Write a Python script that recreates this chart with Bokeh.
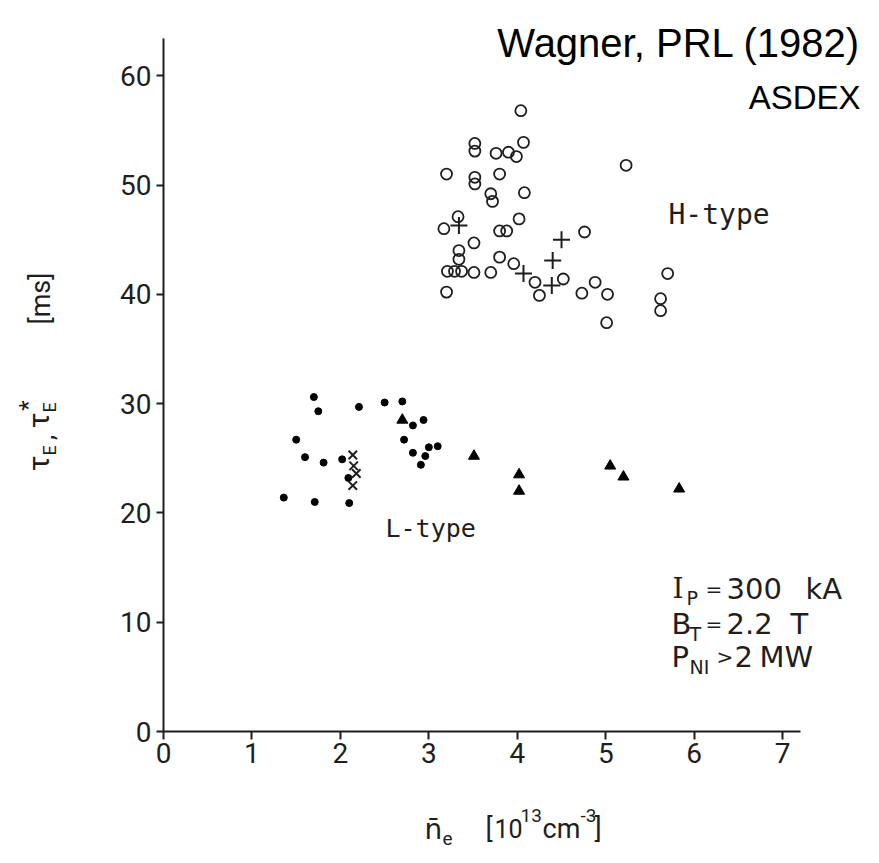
from math import pi
from bokeh.plotting import figure
from bokeh.models import Range1d, Label, FixedTicker
from bokeh.embed import file_html
from bokeh.resources import INLINE

# ---- data ----
h_open_x = [4.04, 3.52, 3.52, 3.76, 3.90, 3.99, 4.07, 3.20, 3.52, 3.52, 3.80, 5.23,
            3.70, 3.72, 4.08, 3.33, 3.17, 4.02, 3.80, 3.88, 3.51, 4.76, 3.34, 3.34,
            3.80, 3.96, 3.21, 3.29, 3.37, 3.51, 3.70, 4.20, 4.52, 4.88, 4.25, 4.73,
            5.02, 3.20, 5.01, 5.62, 5.62, 5.70]
h_open_y = [56.8, 53.8, 53.1, 52.9, 53.0, 52.6, 53.9, 51.0, 50.7, 50.1, 51.0, 51.8,
            49.2, 48.5, 49.3, 47.1, 46.0, 46.9, 45.8, 45.8, 44.7, 45.7, 44.0, 43.2,
            43.4, 42.8, 42.1, 42.1, 42.1, 42.0, 42.0, 41.1, 41.4, 41.1, 39.9, 40.1,
            40.0, 40.2, 37.4, 39.6, 38.5, 41.9]
h_plus_x = [3.34, 4.07, 4.40, 4.50, 4.39]
h_plus_y = [46.3, 41.9, 43.1, 45.0, 40.8]

l_dot_x = [1.70, 1.75, 2.21, 2.50, 2.70, 2.82, 2.94, 1.50, 2.72, 2.82, 3.00, 3.10,
           2.96, 2.91, 1.60, 1.81, 2.02, 2.09, 1.36, 1.71, 2.10]
l_dot_y = [30.6, 29.3, 29.7, 30.1, 30.2, 28.0, 28.5, 26.7, 26.7, 25.5, 26.0, 26.1,
           25.2, 24.4, 25.1, 24.6, 24.9, 23.2, 21.4, 21.0, 20.9]
l_tri_x = [2.70, 3.51, 4.02, 4.02, 5.05, 5.20, 5.83]
l_tri_y = [28.5, 25.2, 23.5, 22.0, 24.3, 23.3, 22.2]
l_x_x = [2.14, 2.15, 2.18, 2.14]
l_x_y = [25.3, 24.3, 23.6, 22.5]

x_ticks = [0, 1, 2, 3, 4, 5, 6, 7]
y_ticks = [0, 10, 20, 30, 40, 50, 60]
x_axis_end = 7.2
y_axis_end = 63.4

# ---- layout: the frame covers the whole canvas; axes sit at the data origin ----
W, H = 879, 863
X0, Y0 = 163.0, 731.0      # pixel position of the data origin
XS, YS = 88.45, 10.93      # pixels per data unit


def X(px):  # pixel -> data x
    return (px - X0) / XS


def Y(py):  # pixel -> data y
    return (Y0 - py) / YS


p = figure(width=W, height=H, output_backend="svg", toolbar_location=None,
           x_range=Range1d(X(0), X(W)), y_range=Range1d(Y(H), Y(0)),
           min_border=0, min_border_left=0, min_border_right=0,
           min_border_top=0, min_border_bottom=0)
p.outline_line_color = None
p.xgrid.visible = False
p.ygrid.visible = False
p.background_fill_color = "white"
p.border_fill_color = "white"

TF = "Roboto"
INK = "#1e1e1e"
for ax in (p.xaxis[0], p.yaxis[0]):
    ax.fixed_location = 0
    ax.axis_line_width = 2
    ax.axis_line_color = INK
    ax.major_tick_line_width = 2
    ax.major_tick_line_color = INK
    ax.minor_tick_line_color = None
    ax.major_tick_in = 0
    ax.major_label_text_font = TF
    ax.major_label_text_font_size = "28px"
    ax.major_label_text_color = INK
p.xaxis[0].ticker = FixedTicker(ticks=x_ticks)
p.yaxis[0].ticker = FixedTicker(ticks=y_ticks)
p.xaxis[0].bounds = (0, x_axis_end)
p.yaxis[0].bounds = (0, y_axis_end)
p.xaxis[0].major_tick_out = 8
p.yaxis[0].major_tick_out = 7
p.xaxis[0].major_label_standoff = 3
p.yaxis[0].major_label_standoff = 5

# ---- marks ----
p.scatter(h_open_x, h_open_y, marker="circle", size=11, fill_color=None,
          line_color=INK, line_width=1.8)
p.scatter(h_plus_x, h_plus_y, marker="cross", size=17, line_color=INK,
          line_width=2)
p.scatter(l_dot_x, l_dot_y, marker="circle", size=7, fill_color="black",
          line_color="black")
p.scatter(l_tri_x, l_tri_y, marker="triangle", size=11, fill_color="black",
          line_color="black")
p.scatter(l_x_x, l_x_y, marker="x", size=12, line_color=INK, line_width=2)


def lab(text, px, py, size, font=TF, align="left", baseline="middle", angle=0.0,
        color=INK):
    p.add_layout(Label(x=X(px), y=Y(py), text=text, text_font=font,
                       text_font_size=f"{size}px", text_align=align,
                       text_baseline=baseline, angle=angle, text_color=color))


# title
lab("Wagner, PRL (1982)", 860, 42, 40, font="Liberation Sans", align="right",
    baseline="alphabetic", color="black")
lab("ASDEX", 860, 97, 33, font="Liberation Sans", align="right",
    baseline="alphabetic", color="black")

# group labels
MF = "DejaVu Sans Mono"
lab("H-type", 668, 214, 28, font=MF)
lab("L-type", 385, 528, 25, font=MF)

# parameters
PF = "DejaVu Sans"
lab("I", 672, 588, 28, font="DejaVu Serif")
lab("P", 686, 597, 19, font=PF)
lab("=", 705, 588, 20, font=PF)
lab("300", 726, 588, 29, font=PF)
lab("kA", 805, 588, 29, font=PF)
lab("B", 671, 623, 29, font=PF)
lab("T", 689, 633, 19, font=PF)
lab("=", 705, 623, 20, font=PF)
lab("2.2", 726, 623, 29, font=PF)
lab("T", 790, 623, 29, font=PF)
lab("P", 671, 656, 29, font=PF)
lab("NI", 689, 666, 19, font=PF)
lab(">", 716, 656, 20, font=PF)
lab("2", 734, 656, 29, font=PF)
lab("MW", 759, 656, 29, font=PF)

# y-axis label (rotated)
R = pi / 2
lab("\u03c4", 38, 463, 30, align="center", angle=R)
lab("E", 49, 450, 18, align="center", angle=R)
lab(",", 44, 437, 26, align="center", angle=R)
lab("\u03c4", 38, 420, 30, align="center", angle=R)
lab("E", 49, 407, 18, align="center", angle=R)
lab("*", 27, 405, 24, align="center", angle=R)
lab("[ms]", 40, 298, 27, align="center", angle=R)

# x-axis label
lab("n\u0304", 424, 829, 28, font="DejaVu Sans")
lab("e", 442, 838, 19)
lab("[", 485, 828, 27)
lab("10", 494, 828, 25)
lab("13", 520, 815, 19)
lab("cm", 542, 828, 27)
lab("-3", 580, 815, 19)
lab("]", 594, 828, 27)

open("out.html", "w").write(file_html(p, INLINE))
